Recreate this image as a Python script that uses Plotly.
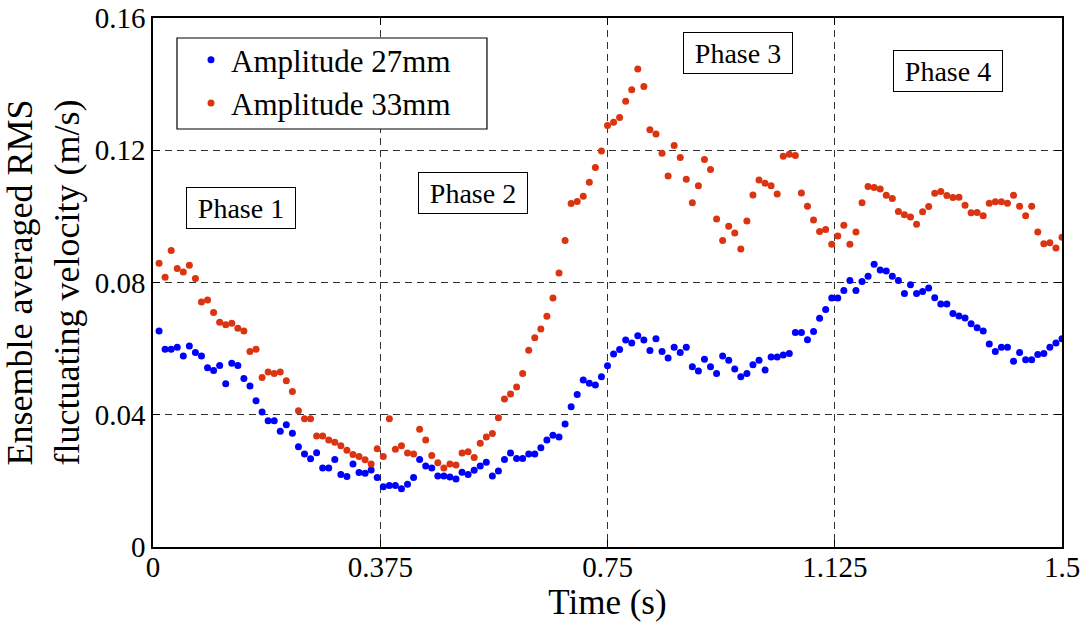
import plotly.graph_objects as go

# Sampling times (s): one sample every 0.01 s from 0.01 to 1.50
time_s = [round(0.01 * i, 2) for i in range(1, 151)]

amp27 = [
    0.0653, 0.0598, 0.0598, 0.0604, 0.0578, 0.0608, 0.0588, 0.0578, 0.0542, 0.0534,
    0.0549, 0.0494, 0.0556, 0.0549, 0.0510, 0.0487, 0.0442, 0.0408, 0.0382, 0.0382,
    0.0350, 0.0370, 0.0344, 0.0303, 0.0281, 0.0267, 0.0285, 0.0239, 0.0239, 0.0265,
    0.0219, 0.0213, 0.0251, 0.0225, 0.0223, 0.0233, 0.0210, 0.0182, 0.0186, 0.0186,
    0.0176, 0.0190, 0.0210, 0.0265, 0.0245, 0.0239, 0.0215, 0.0215, 0.0212, 0.0206,
    0.0226, 0.0219, 0.0232, 0.0245, 0.0256, 0.0215, 0.0230, 0.0265, 0.0284, 0.0268,
    0.0268, 0.0281, 0.0281, 0.0300, 0.0324, 0.0338, 0.0333, 0.0372, 0.0424, 0.0461,
    0.0505, 0.0495, 0.0490, 0.0515, 0.0548, 0.0584, 0.0597, 0.0626, 0.0617, 0.0639,
    0.0626, 0.0594, 0.0630, 0.0591, 0.0572, 0.0604, 0.0588, 0.0604, 0.0545, 0.0532,
    0.0568, 0.0545, 0.0525, 0.0578, 0.0565, 0.0538, 0.0515, 0.0525, 0.0551, 0.0565,
    0.0535, 0.0575, 0.0575, 0.0581, 0.0585, 0.0649, 0.0649, 0.0627, 0.0652, 0.0692,
    0.0718, 0.0753, 0.0753, 0.0776, 0.0806, 0.0776, 0.0803, 0.0819, 0.0855, 0.0838,
    0.0835, 0.0819, 0.0806, 0.0767, 0.0793, 0.0767, 0.0773, 0.0783, 0.0754, 0.0735,
    0.0735, 0.0706, 0.0699, 0.0693, 0.0675, 0.0663, 0.0653, 0.0614, 0.0591, 0.0604,
    0.0604, 0.0562, 0.0588, 0.0566, 0.0566, 0.0582, 0.0585, 0.0604, 0.0617, 0.0630,
]

amp33 = [
    0.0858, 0.0816, 0.0897, 0.0842, 0.0832, 0.0852, 0.0812, 0.0741, 0.0747, 0.0709,
    0.0680, 0.0672, 0.0677, 0.0662, 0.0653, 0.0591, 0.0598, 0.0513, 0.0529, 0.0525,
    0.0529, 0.0503, 0.0470, 0.0412, 0.0388, 0.0388, 0.0336, 0.0336, 0.0324, 0.0317,
    0.0306, 0.0293, 0.0280, 0.0274, 0.0264, 0.0251, 0.0297, 0.0274, 0.0388, 0.0296,
    0.0306, 0.0284, 0.0281, 0.0356, 0.0324, 0.0277, 0.0255, 0.0239, 0.0251, 0.0248,
    0.0284, 0.0288, 0.0271, 0.0314, 0.0333, 0.0343, 0.0391, 0.0448, 0.0463, 0.0484,
    0.0525, 0.0595, 0.0633, 0.0659, 0.0698, 0.0753, 0.0829, 0.0927, 0.1039, 0.1045,
    0.1061, 0.1103, 0.1148, 0.1198, 0.1275, 0.1285, 0.1299, 0.1348, 0.1383, 0.1446,
    0.1393, 0.1262, 0.1249, 0.1191, 0.1122, 0.1214, 0.1178, 0.1112, 0.1041, 0.1093,
    0.1172, 0.1142, 0.0992, 0.0927, 0.0970, 0.0950, 0.0901, 0.0986, 0.1065, 0.1110,
    0.1100, 0.1093, 0.1068, 0.1182, 0.1188, 0.1184, 0.1071, 0.1031, 0.0989, 0.0954,
    0.0960, 0.0916, 0.0941, 0.0973, 0.0916, 0.0953, 0.1041, 0.1090, 0.1087, 0.1083,
    0.1064, 0.1054, 0.1015, 0.1005, 0.0998, 0.0976, 0.1014, 0.1030, 0.1070, 0.1075,
    0.1063, 0.1057, 0.1058, 0.1034, 0.1011, 0.1012, 0.1002, 0.1040, 0.1044, 0.1044,
    0.1040, 0.1064, 0.1031, 0.1002, 0.1031, 0.0953, 0.0917, 0.0920, 0.0904, 0.0937,
]

x_tickvals = [0, 0.375, 0.75, 1.125, 1.5]
x_ticktext = ["0", "0.375", "0.75", "1.125", "1.5"]
y_tickvals = [0, 0.04, 0.08, 0.12, 0.16]
y_ticktext = ["0", "0.04", "0.08", "0.12", "0.16"]

phase_labels = ["Phase 1", "Phase 2", "Phase 3", "Phase 4"]
phase_x = [0.1444, 0.528, 0.9653, 1.312]
phase_y = [0.1025, 0.1072, 0.1494, 0.1440]

FONT = "Liberation Serif"
BLUE = "#0000FF"
RED = "#DA3510"

fig = go.Figure()
fig.add_trace(go.Scatter(x=time_s, y=amp27, mode="markers", name="Amplitude 27mm",
                         marker=dict(color=BLUE, size=7)))
fig.add_trace(go.Scatter(x=time_s, y=amp33, mode="markers", name="Amplitude 33mm",
                         marker=dict(color=RED, size=7)))

for lab, xx, yy in zip(phase_labels, phase_x, phase_y):
    fig.add_annotation(x=xx, y=yy, xref="x", yref="y", text=lab, showarrow=False,
                       font=dict(family=FONT, size=28, color="black"),
                       bordercolor="black", borderwidth=1, borderpad=2,
                       bgcolor="white", width=104, height=36)

# legend frame
fig.add_shape(type="rect", xref="paper", yref="paper",
              x0=0.0264, x1=0.3674, y0=0.7902, y1=0.9622,
              line=dict(color="black", width=1.2), fillcolor="white", layer="above")

axis_common = dict(
    showline=True, linecolor="black", linewidth=1.5, mirror="allticks",
    ticks="inside", ticklen=7, tickcolor="black", automargin=False,
    showgrid=True, gridcolor="#333333", gridwidth=1, griddash="7px,5px",
    zeroline=False, tickfont=dict(family=FONT, size=29, color="black"),
)

fig.update_xaxes(range=[0, 1.5], tickvals=x_tickvals, ticktext=x_ticktext,
                 ticklabelstandoff=-7,
                 title=dict(text="Time (s)", font=dict(family=FONT, size=35, color="black"), standoff=0),
                 **axis_common)
fig.update_yaxes(range=[0, 0.16], tickvals=y_tickvals, ticktext=y_ticktext,
                 title=dict(text="Ensemble averaged RMS<br>fluctuating velocity (m/s)",
                            font=dict(family=FONT, size=36, color="black"), standoff=4),
                 **axis_common)

fig.update_layout(
    width=1091, height=625,
    margin=dict(l=153, r=29, t=18, b=78, autoexpand=False),
    paper_bgcolor="white", plot_bgcolor="white",
    font=dict(family=FONT, color="black"),
    legend=dict(x=0.0418, y=0.9716, xanchor="left", yanchor="top",
                bgcolor="rgba(0,0,0,0)", borderwidth=0,
                font=dict(family=FONT, size=31, color="black"),
                tracegroupgap=0),
)

fig.write_html("out.html")
